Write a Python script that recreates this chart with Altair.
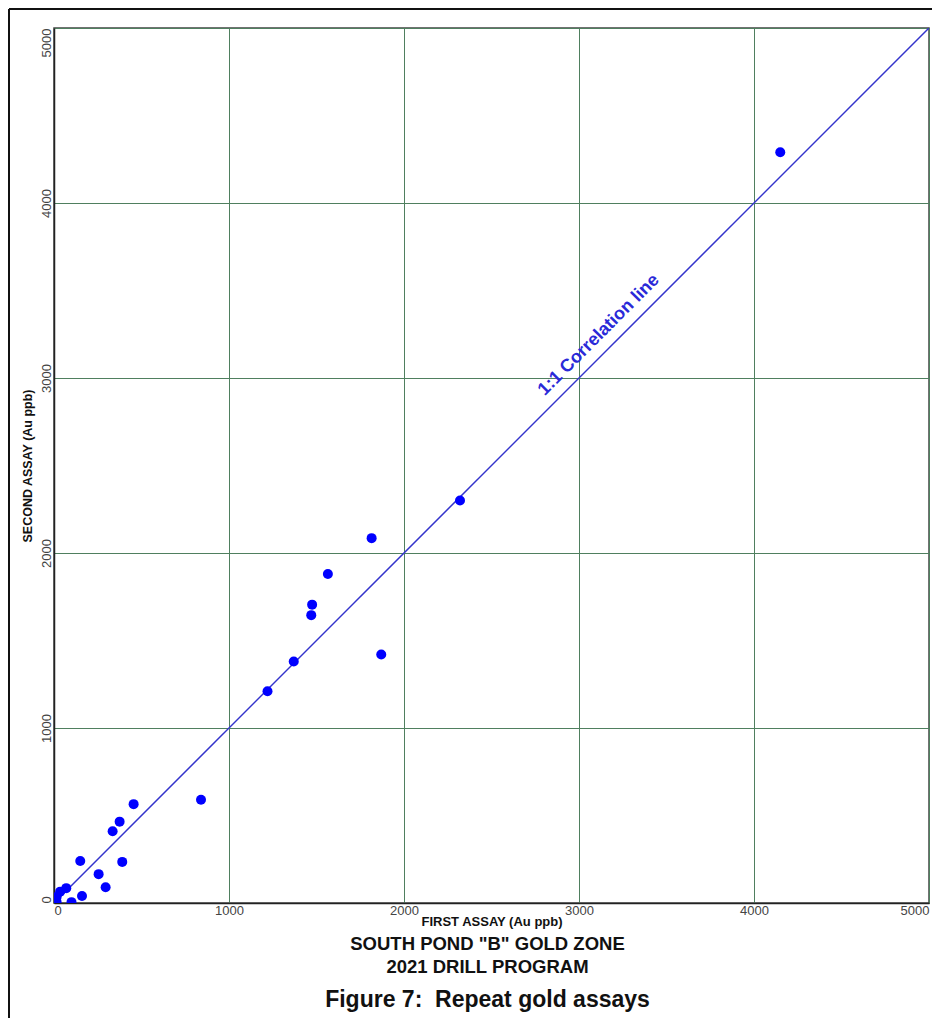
import altair as alt
import pandas as pd

# Repeat assay pairs (Au ppb)
first_assay = [4150, 2320, 1815, 1565, 1475, 1470, 1870, 1370, 1220, 840,
               455, 375, 335, 150, 390, 255, 295, 160, 100, 70, 35, 15, 5, 15, 0]
second_assay = [4290, 2300, 2085, 1880, 1705, 1645, 1420, 1380, 1210, 590,
                565, 465, 410, 240, 235, 165, 90, 40, 5, 85, 65, 35, 15, 5, 0]

line_x = [0, 5000]
line_y = [0, 5000]

label_text = ["1:1 Correlation line"]
label_x = [3114]
label_y = [3246]

title_lines = ['SOUTH POND "B" GOLD ZONE', "2021 DRILL PROGRAM",
               "Figure 7:\u00a0 Repeat gold assays"]

FONT = "Liberation Sans"
W = 875
H = 875

pts = pd.DataFrame({"first": first_assay, "second": second_assay})
ln = pd.DataFrame({"first": line_x, "second": line_y})
lab = pd.DataFrame({"first": label_x, "second": label_y, "t": label_text})

xscale = alt.Scale(domain=[0, 5000], nice=False, zero=False)
yscale = alt.Scale(domain=[0, 5000], nice=False, zero=False)

xaxis = alt.Axis(title="FIRST ASSAY (Au ppb)", values=[0, 1000, 2000, 3000, 4000, 5000],
                 format="d", ticks=False, labelPadding=1, titlePadding=-2,
                 labelFont=FONT, labelFontSize=13, labelColor="#444",
                 titleFont=FONT, titleFontSize=13, titleFontWeight="bold", titleColor="#111",
                 grid=True, gridColor="#4f7f5f", gridWidth=1,
                 domainColor="#222", domainWidth=1.5)
yaxis = alt.Axis(title="SECOND ASSAY (Au ppb)", values=[0, 1000, 2000, 3000, 4000, 5000],
                 format="d", ticks=False, labelPadding=1, titlePadding=6,
                 labelAngle=270, labelFlush=False,
                 labelAlign={"expr": "datum.value == 0 ? 'left' : datum.value == 5000 ? 'right' : 'center'"},
                 labelBaseline="bottom",
                 labelFont=FONT, labelFontSize=13, labelColor="#444",
                 titleFont=FONT, titleFontSize=12.5, titleFontWeight="bold", titleColor="#111",
                 grid=True, gridColor="#4f7f5f", gridWidth=1,
                 domainColor="#222", domainWidth=1.5)

base_line = alt.Chart(ln).mark_line(color="#3434cc", strokeWidth=1.5, clip=True).encode(
    x=alt.X("first:Q", scale=xscale, axis=xaxis),
    y=alt.Y("second:Q", scale=yscale, axis=yaxis),
)

points = alt.Chart(pts).mark_circle(color="#0000ff", opacity=1, size=100, clip=True).encode(
    x=alt.X("first:Q", scale=xscale),
    y=alt.Y("second:Q", scale=yscale),
)

label = alt.Chart(lab).mark_text(color="#2a2ad8", font=FONT, fontSize=18, fontWeight="bold",
                                 angle=315, align="center", baseline="middle").encode(
    x=alt.X("first:Q", scale=xscale),
    y=alt.Y("second:Q", scale=yscale),
    text="t:N",
)

one = pd.DataFrame({"a": [0]})
t1 = alt.Chart(one).mark_text(text=title_lines[0], font=FONT, fontSize=18.5, fontWeight="bold",
                              color="#111", align="center", baseline="middle").encode(
    x=alt.value(W / 2 - 4), y=alt.value(916))
t2 = alt.Chart(one).mark_text(text=title_lines[1], font=FONT, fontSize=18.5, fontWeight="bold",
                              color="#111", align="center", baseline="middle").encode(
    x=alt.value(W / 2 - 4), y=alt.value(939))
t3 = alt.Chart(one).mark_text(text=title_lines[2], font=FONT, fontSize=23, fontWeight="bold",
                              color="#111", align="center", baseline="middle").encode(
    x=alt.value(W / 2 - 4), y=alt.value(972))

frame_left = alt.Chart(one).mark_rule(color="#111", strokeWidth=2).encode(
    x=alt.value(-45), y=alt.value(-19), y2=alt.value(1010))
frame_top = alt.Chart(one).mark_rule(color="#111", strokeWidth=2).encode(
    x=alt.value(-45), x2=alt.value(W + 3), y=alt.value(-19))

chart = alt.layer(base_line, points, label, t1, t2, t3, frame_left, frame_top).properties(
    width=W, height=H,
    padding={"left": 46, "top": 20, "right": 3, "bottom": 115},
    autosize=alt.AutoSizeParams(type="none"),
    background="white",
).configure_view(stroke="#444", strokeWidth=1.5)

chart.save("out.html", embed_options={"renderer": "svg", "actions": False})
